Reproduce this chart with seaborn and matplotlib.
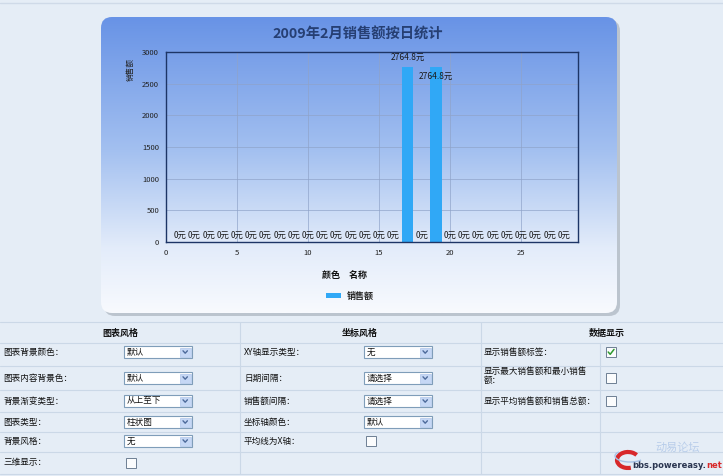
import numpy as np
import pandas as pd
import matplotlib
matplotlib.use("Agg")
import matplotlib.pyplot as plt
from matplotlib.patches import FancyBboxPatch, Rectangle, Patch, Arc
from matplotlib.colors import LinearSegmentedColormap
import seaborn as sns

sns.set_style("white")
plt.rcParams['font.family'] = ['Noto Sans CJK SC', 'DejaVu Sans']
plt.rcParams['axes.unicode_minus'] = False

# Data: daily sales, February 2009
days = list(range(1, 29))
sales = [0, 0, 0, 0, 0, 0, 0, 0, 0, 0, 0, 0, 0, 0, 0, 0,
         2764.8, 0, 2764.8,
         0, 0, 0, 0, 0, 0, 0, 0, 0]
x_ticks = [0, 5, 10, 15, 20, 25]
y_ticks = [0, 500, 1000, 1500, 2000, 2500, 3000]

title = "2009年2月销售额按日统计"
series_name = "销售额"

# Form table texts
col1_labels = ["图表背景颜色：", "图表内容背景色：", "背景渐变类型：", "图表类型：", "背景风格：", "三维显示："]
col1_values = ["默认", "默认", "从上至下", "柱状图", "无", None]
col2_labels = ["XY轴显示类型：", "日期间隔：", "销售额间隔：", "坐标轴颜色：", "平均线为X轴："]
col2_values = ["无", "请选择", "请选择", "默认", None]
col3_labels = ["显示销售额标签：", "显示最大销售额和最小销售\n额：", "显示平均销售额和销售总额："]
col3_checked = [True, False, False]

PAGE_BG = '#e5edf6'
BAR_COLOR = '#30a8f6'
NAVY = '#1d3566'
GRID = '#8fa3c9'
LINE = '#cbd8e7'

W, H = 723, 476
fig = plt.figure(figsize=(W / 100, H / 100), dpi=100, facecolor=PAGE_BG)

# background layer in pixel coordinates
bg = fig.add_axes([0, 0, 1, 1])
bg.set_xlim(0, W)
bg.set_ylim(H, 0)
bg.axis('off')
bg.plot([0, W], [2.5, 2.5], color='#cfdae8', lw=1)

# chart panel with shadow and gradient
shadow = FancyBboxPatch((104, 20), 516, 296, boxstyle="round,pad=0,rounding_size=11",
                        fc='#9aa3ad', ec='none', alpha=0.55)
bg.add_patch(shadow)
panel = FancyBboxPatch((101, 17), 516, 296, boxstyle="round,pad=0,rounding_size=11",
                       fc='none', ec='none')
bg.add_patch(panel)
cmap = LinearSegmentedColormap.from_list('g', [(0, '#6893e6'), (0.45, '#a3c0f0'),
                                               (0.78, '#e3ecfa'), (1, '#f8fafe')])
grad = np.linspace(0, 1, 256).reshape(-1, 1)
im = bg.imshow(grad, cmap=cmap, aspect='auto', extent=(101, 617, 313, 17), zorder=1)
im.set_clip_path(panel)

bg.text(358, 35, title, ha='center', va='center', fontsize=10.3, fontweight='bold', color='#263f73')

# main chart
ax = fig.add_axes([166 / W, 1 - 242 / H, 412 / W, 190 / H])
ax.set_facecolor('none')
df = pd.DataFrame({'day': days, 'amount': sales})
sns.barplot(data=df, x='day', y='amount', native_scale=True, color=BAR_COLOR,
            width=0.8, saturation=1, edgecolor='none', ax=ax)
ax.set_xlim(0, 29)
ax.set_ylim(0, 3000)
ax.set_xticks(x_ticks)
ax.set_yticks(y_ticks)
ax.grid(True, color=GRID, lw=0.6, alpha=0.8)
ax.set_axisbelow(True)
for s in ax.spines.values():
    s.set_visible(True)
    s.set_color(NAVY)
    s.set_linewidth(1)
ax.tick_params(axis='both', length=3, width=0.8, color='#333333', labelsize=5.5, pad=2, labelcolor='#222222')
ax.set_xlabel("颜色　名称", fontsize=6.5, fontweight='bold', color='#111111')
ax.xaxis.set_label_coords((345 - 166) / 412, -0.155)
ax.set_ylabel(series_name, fontsize=5.5, color='#222222')
ax.yaxis.set_label_coords(-0.075, 0.905)

# value labels
big_seen = 0
for d, v in zip(days, sales):
    if v > 0:
        off = 7 if big_seen == 0 else -7
        big_seen += 1
        ax.annotate(f"{v:g}元", xy=(d, v), xytext=(0, off), textcoords='offset points',
                    ha='center', va='center', fontsize=6, color='#1a1a1a')
    else:
        ax.annotate(f"{v:g}元", xy=(d, v), xytext=(0, 1.5), textcoords='offset points',
                    ha='center', va='bottom', fontsize=6, color='#1a1a1a')

leg = ax.legend(handles=[Patch(fc=BAR_COLOR, ec='none', label=series_name)],
                loc='center left', bbox_to_anchor=((318 - 166) / 412, -0.285),
                frameon=False, fontsize=6.5, handlelength=1.6, handleheight=0.6, handletextpad=0.7)
for t in leg.get_texts():
    t.set_fontweight('bold')

# form table
for y in [322, 343, 366, 390, 412, 432, 452, 474]:
    bg.plot([0, W], [y, y], color=LINE, lw=0.8)
for x in [240, 481, 600]:
    bg.plot([x, x], [322 if x != 600 else 343, 474], color=LINE, lw=0.8)

fs = 6.2
bg.text(120, 333, "图表风格", ha='center', va='center', fontsize=6.5, fontweight='bold', color='#111')
bg.text(360, 333, "坐标风格", ha='center', va='center', fontsize=6.5, fontweight='bold', color='#111')
bg.text(607, 333, "数据显示", ha='center', va='center', fontsize=6.5, fontweight='bold', color='#111')


def dropdown(x0, yc, text):
    w, h = 68, 12
    bg.add_patch(Rectangle((x0, yc - h / 2), w, h, fc='white', ec='#7f9db9', lw=0.8, zorder=3))
    bg.add_patch(Rectangle((x0 + w - 12, yc - h / 2 + 1.5), 10.5, h - 3, fc='#c5d7f5', ec='#b0c6ea', lw=0.5, zorder=4))
    cx = x0 + w - 6.8
    bg.plot([cx - 2.2, cx, cx + 2.2], [yc - 1.2, yc + 1.2, yc - 1.2], color='#4d6a9a', lw=1, zorder=5)
    bg.text(x0 + 3, yc, text, ha='left', va='center', fontsize=fs, color='#111', zorder=5)


def checkbox(xc, yc, checked=False):
    bg.add_patch(Rectangle((xc - 5, yc - 5), 10, 10, fc='#fbfcfd', ec='#6d7f93', lw=0.7, zorder=3))
    if checked:
        bg.plot([xc - 2.8, xc - 0.8, xc + 3], [yc, yc + 2.3, yc - 2.6], color='#2f9a2f', lw=1.1, zorder=4)


rows1 = [352, 378, 401, 422, 441, 463]
for lab, val, y in zip(col1_labels, col1_values, rows1):
    bg.text(3, y, lab, ha='left', va='center', fontsize=fs, color='#111')
    if val is None:
        checkbox(131, y)
    else:
        dropdown(124, y, val)

for lab, val, y in zip(col2_labels, col2_values, rows1):
    bg.text(244, y, lab, ha='left', va='center', fontsize=fs, color='#111')
    if val is None:
        checkbox(371, y)
    else:
        dropdown(364, y, val)

rows3 = [352, 376, 401]
box3 = [352, 378, 401]
for lab, chk, y, yb in zip(col3_labels, col3_checked, rows3, box3):
    bg.text(484, y, lab, ha='left', va='center', fontsize=fs, color='#111', linespacing=1.0)
    checkbox(611, yb, chk)

# watermark
bg.add_patch(Arc((628, 460), 22, 16, theta1=70, theta2=330, color='#d8282a', lw=3, zorder=4))
bg.add_patch(Arc((630, 456), 30, 12, theta1=20, theta2=200, color='#a9c3e6', lw=1, zorder=4))
bg.text(706, 466, "bbs.powereasy.", ha='right', va='center', fontsize=6, fontweight='bold', color='#2a3550',
        family='DejaVu Sans')
bg.text(706, 466, "net", ha='left', va='center', fontsize=6, fontweight='bold', color='#d8282a',
        family='DejaVu Sans')
bg.text(678, 448, "动易论坛", ha='center', va='center', fontsize=8, style='italic', color='#b8cdea')

fig.savefig("out.png", dpi=100, facecolor=PAGE_BG)
